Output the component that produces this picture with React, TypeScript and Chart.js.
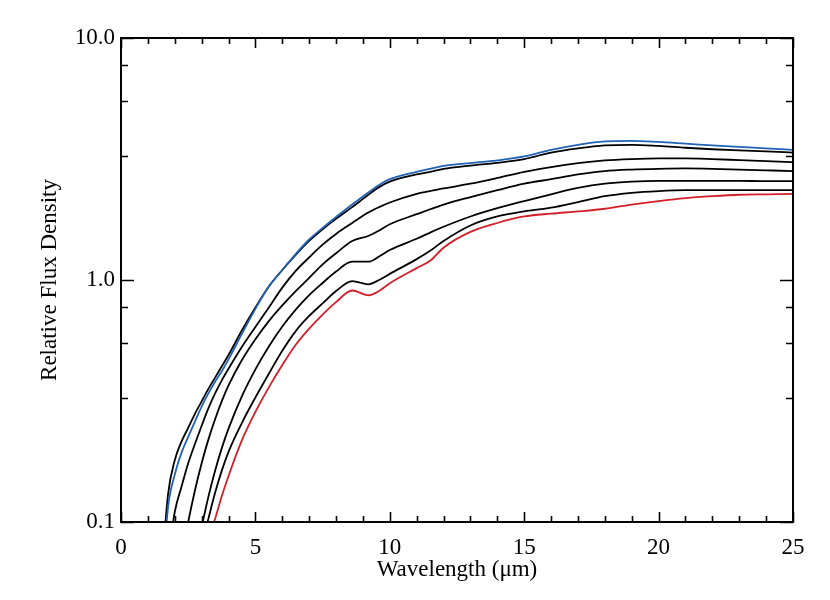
import React, { useEffect, useRef } from "react";
import { Chart, registerables } from "chart.js";

Chart.register(...registerables);

// Wavelength grid (µm)
const wavelength = [
  1.5, 1.75, 2.0, 2.25, 2.5, 2.75, 3.0, 3.25, 3.5, 3.75, 4.0, 4.5, 5.0, 5.5, 6.0, 6.5, 7.0, 7.5, 8.0,
  8.6, 9.2, 9.6, 10.0, 11.0, 11.5, 12.0, 13.0, 14.0, 15.0, 16.0, 17.0, 18.0, 19.0, 20.0, 21.0, 22.0,
  23.0, 24.0, 25.0,
];

// Relative flux density of each curve
const blueCurve = [
  0.05, 0.115, 0.157, 0.193, 0.225, 0.26, 0.3, 0.34, 0.38, 0.42, 0.47, 0.6, 0.76, 0.94, 1.1, 1.28, 1.47,
  1.64, 1.82, 2.05, 2.3, 2.47, 2.61, 2.8, 2.88, 2.96, 3.04, 3.12, 3.24, 3.45, 3.62, 3.74, 3.76, 3.72,
  3.66, 3.6, 3.55, 3.5, 3.45,
];
const blackCurve1 = [
  0.06, 0.13, 0.18, 0.215, 0.245, 0.28, 0.315, 0.355, 0.395, 0.44, 0.49, 0.62, 0.77, 0.94, 1.1, 1.27,
  1.45, 1.62, 1.79, 2.0, 2.25, 2.42, 2.55, 2.73, 2.8, 2.88, 2.97, 3.05, 3.16, 3.36, 3.5, 3.6, 3.62, 3.58,
  3.52, 3.47, 3.43, 3.4, 3.36,
];
const blackCurve2 = [
  0.045, 0.07, 0.11, 0.14, 0.175, 0.21, 0.25, 0.295, 0.34, 0.385, 0.43, 0.53, 0.64, 0.77, 0.93, 1.09,
  1.24, 1.4, 1.55, 1.72, 1.9, 2.0, 2.09, 2.27, 2.33, 2.39, 2.5, 2.64, 2.8, 2.93, 3.04, 3.12, 3.16, 3.18,
  3.18, 3.16, 3.13, 3.1, 3.07,
];
const blackCurve3 = [
  0.02, 0.03, 0.048, 0.071, 0.1, 0.135, 0.175, 0.219, 0.266, 0.316, 0.367, 0.467, 0.569, 0.676, 0.785,
  0.9, 1.02, 1.16, 1.29, 1.45, 1.52, 1.6, 1.7, 1.87, 1.96, 2.05, 2.2, 2.35, 2.5, 2.61, 2.73, 2.82, 2.86,
  2.88, 2.89, 2.88, 2.86, 2.84, 2.82,
];
const blackCurve4 = [
  0.012, 0.018, 0.025, 0.035, 0.049, 0.069, 0.095, 0.127, 0.163, 0.202, 0.243, 0.331, 0.427, 0.531,
  0.642, 0.754, 0.866, 0.972, 1.084, 1.19, 1.19, 1.25, 1.33, 1.48, 1.57, 1.66, 1.83, 1.98, 2.12, 2.26,
  2.4, 2.5, 2.55, 2.57, 2.57, 2.57, 2.57, 2.56, 2.56,
];
const blackCurve5 = [
  0.015, 0.02, 0.027, 0.036, 0.048, 0.062, 0.08, 0.103, 0.132, 0.163, 0.195, 0.257, 0.327, 0.41, 0.51,
  0.615, 0.71, 0.8, 0.9, 0.99, 0.96, 1.0, 1.06, 1.22, 1.32, 1.45, 1.68, 1.83, 1.92, 1.99, 2.1, 2.22, 2.29,
  2.33, 2.35, 2.35, 2.35, 2.35, 2.35,
];
const redCurve = [
  0.013, 0.018, 0.025, 0.033, 0.043, 0.055, 0.069, 0.085, 0.103, 0.128, 0.155, 0.218, 0.285, 0.36,
  0.445, 0.54, 0.63, 0.72, 0.81, 0.905, 0.865, 0.9, 0.97, 1.12, 1.2, 1.36, 1.58, 1.72, 1.83, 1.88, 1.92,
  1.97, 2.05, 2.12, 2.18, 2.22, 2.25, 2.26, 2.27,
];

// Axis ticks
const xMajorTicks = [0, 5, 10, 15, 20, 25];
const xMinorTicks = [
  1, 2, 3, 4, 6, 7, 8, 9, 11, 12, 13, 14, 16, 17, 18, 19, 21, 22, 23, 24,
];
const yMajorTicks = [0.1, 1, 10];
const yTickLabels = ["0.1", "1.0", "10.0"];
const yMinorTicks = [0.325, 0.55, 0.775, 3.25, 5.5, 7.75];

const xTitle = "Wavelength (\u03bcm)";
const yTitle = "Relative Flux Density";

const FONT = "'Liberation Serif', 'Times New Roman', serif";
const FONT_SIZE = 23;
const BLUE = "#2162b5";
const RED = "#d21f2a";
const BLACK = "#000000";

const framePlugin = {
  id: "idlFrame",
  afterDatasetsDraw(chart: any) {
    const { ctx, chartArea, scales } = chart;
    const { left, right, top, bottom } = chartArea;
    const x = scales.x;
    const y = scales.y;
    ctx.save();
    ctx.strokeStyle = "#000";
    ctx.lineWidth = 1.6;
    ctx.beginPath();
    const tick = (px: number, len: number) => {
      ctx.moveTo(px, bottom);
      ctx.lineTo(px, bottom - len);
      ctx.moveTo(px, top);
      ctx.lineTo(px, top + len);
    };
    xMajorTicks.forEach((v) => tick(Math.round(x.getPixelForValue(v)) + 0.5, 10));
    xMinorTicks.forEach((v) => tick(Math.round(x.getPixelForValue(v)) + 0.5, 6));
    const ytick = (py: number, len: number) => {
      ctx.moveTo(left, py);
      ctx.lineTo(left + len, py);
      ctx.moveTo(right, py);
      ctx.lineTo(right - len, py);
    };
    yMajorTicks.forEach((v) => ytick(Math.round(y.getPixelForValue(v)) + 0.5, 13));
    yMinorTicks.forEach((v) => ytick(Math.round(y.getPixelForValue(v)) + 0.5, 7));
    ctx.stroke();
    ctx.lineWidth = 2;
    ctx.strokeRect(left, top, right - left, bottom - top);
    ctx.restore();
  },
};

export default function App() {
  const canvasRef = useRef<HTMLCanvasElement | null>(null);

  useEffect(() => {
    if (!canvasRef.current) return;
    const line = (data: number[], color: string) => ({
      data: wavelength.map((w, i) => ({ x: w, y: data[i] })),
      borderColor: color,
      backgroundColor: color,
      borderWidth: 1.8,
      pointRadius: 0,
      fill: false,
      cubicInterpolationMode: "monotone" as const,
    });
    const chart = new Chart(canvasRef.current, {
      type: "line",
      data: {
        datasets: [
          line(blueCurve, BLUE),
          line(redCurve, RED),
          line(blackCurve1, BLACK),
          line(blackCurve2, BLACK),
          line(blackCurve3, BLACK),
          line(blackCurve4, BLACK),
          line(blackCurve5, BLACK),
        ],
      },
      options: {
        animation: false,
        responsive: false,
        maintainAspectRatio: false,
        devicePixelRatio: 1,
        layout: { padding: { left: 0, top: 38, right: 37, bottom: 0 } },
        plugins: {
          legend: { display: false },
          tooltip: { enabled: false },
        },
        scales: {
          x: {
            type: "linear",
            min: 0,
            max: 25,
            grid: { display: false, drawTicks: false },
            border: { display: false },
            afterBuildTicks: (scale: any) => {
              scale.ticks = xMajorTicks.map((v) => ({ value: v }));
            },
            afterFit: (scale: any) => {
              scale.height = 78;
              scale.paddingLeft = 0;
              scale.paddingRight = 0;
            },
            ticks: {
              color: "#000",
              padding: 12,
              maxRotation: 0,
              autoSkip: false,
              font: { family: FONT, size: FONT_SIZE },
              callback: (v: any) => String(v),
            },
            title: {
              display: true,
              text: xTitle,
              color: "#000",
              font: { family: FONT, size: FONT_SIZE },
              padding: { top: 0, bottom: 16 },
            },
          },
          y: {
            type: "logarithmic",
            min: 0.1,
            max: 10,
            grid: { display: false, drawTicks: false },
            border: { display: false },
            afterBuildTicks: (scale: any) => {
              scale.ticks = yMajorTicks.map((v) => ({ value: v, major: true }));
            },
            afterFit: (scale: any) => {
              scale.width = 121;
              scale.paddingTop = 0;
              scale.paddingBottom = 0;
            },
            ticks: {
              color: "#000",
              padding: 6,
              autoSkip: false,
              font: { family: FONT, size: FONT_SIZE },
              callback: (v: any) => {
                const i = yMajorTicks.findIndex((t) => Math.abs(t - Number(v)) < 1e-9);
                return i >= 0 ? yTickLabels[i] : "";
              },
            },
            title: {
              display: true,
              text: yTitle,
              color: "#000",
              font: { family: FONT, size: FONT_SIZE },
              padding: { top: 36, bottom: 0 },
            },
          },
        },
      },
      plugins: [framePlugin],
    });
    return () => chart.destroy();
  }, []);

  return (
    <div style={{ position: "absolute", left: 0, top: 0, width: 830, height: 600, background: "#fff" }}>
      <canvas ref={canvasRef} width={830} height={600} style={{ width: 830, height: 600, display: "block" }} />
    </div>
  );
}
